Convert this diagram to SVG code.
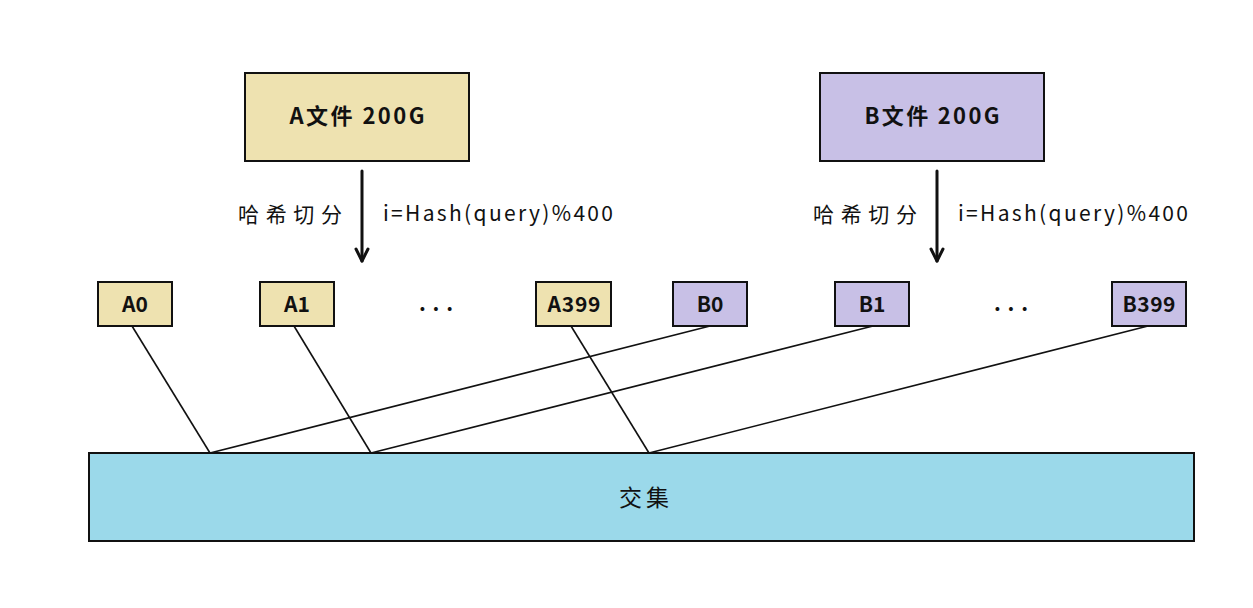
<svg xmlns="http://www.w3.org/2000/svg" width="1253" height="608" viewBox="0 0 1253 608">
<style>
.bx{stroke:#111;stroke-width:2}
.a{fill:#EEE2B0}
.b{fill:#C8C0E6}
.c{fill:#9BD9EA}
.lbl{font-family:"Noto Sans CJK SC","Liberation Sans",sans-serif;font-size:22px;font-weight:bold;fill:#111;text-anchor:middle}
.nl{font-family:"Noto Sans CJK SC","Liberation Sans",sans-serif;font-size:21px;font-weight:bold;fill:#111;text-anchor:middle}
.t{font-family:"Noto Sans CJK SC","Liberation Sans",sans-serif;font-size:21px;fill:#111}
.big{font-size:23px}
.ln{stroke:#111;stroke-width:1.6;fill:none}
.arr{stroke:#111;stroke-width:3;fill:none;stroke-linecap:round;stroke-linejoin:round}
</style>
<rect width="1253" height="608" fill="#fff"/>
<g id="connectors">
<line class="ln" x1="132" y1="326" x2="210" y2="453"/>
<line class="ln" x1="294" y1="326" x2="371" y2="453"/>
<line class="ln" x1="571" y1="326" x2="649" y2="453"/>
<line class="ln" x1="710" y1="326" x2="210" y2="453"/>
<line class="ln" x1="873" y1="326" x2="371" y2="453"/>
<line class="ln" x1="1148" y1="326" x2="649" y2="453"/>
<g id="arrowA">
<line class="arr" x1="362" y1="171" x2="362" y2="261"/>
<polyline class="arr" points="356,249 362,261 368,249"/>
</g>
<g id="arrowB">
<line class="arr" x1="937" y1="171" x2="937" y2="261"/>
<polyline class="arr" points="931,249 937,261 943,249"/>
</g>
</g>
<g id="fileA">
<rect class="bx a" x="245" y="73" width="224" height="88"/>
<text class="lbl" x="357" y="124" textLength="135" lengthAdjust="spacing">A文件 200G</text>
</g>
<g id="fileB">
<rect class="bx b" x="820" y="73" width="224" height="88"/>
<text class="lbl" x="932" y="124" textLength="135" lengthAdjust="spacing">B文件 200G</text>
</g>
<g id="labelsA">
<text class="t" x="238" y="222" textLength="104" lengthAdjust="spacing">哈希切分</text>
<text class="t" x="383" y="221" textLength="230" lengthAdjust="spacing">i=Hash(query)%400</text>
</g>
<g id="labelsB">
<text class="t" x="813" y="222" textLength="104" lengthAdjust="spacing">哈希切分</text>
<text class="t" x="958" y="221" textLength="230" lengthAdjust="spacing">i=Hash(query)%400</text>
</g>
<g id="A0"><rect class="bx a" x="98" y="282" width="74" height="44"/><text class="nl" x="135" y="312">A0</text></g>
<g id="A1"><rect class="bx a" x="260" y="282" width="74" height="44"/><text class="nl" x="297" y="312">A1</text></g>
<g id="dotsA"><text class="t" x="419" y="311" textLength="34" lengthAdjust="spacing" font-weight="bold">...</text></g>
<g id="A399"><rect class="bx a" x="536" y="282" width="75" height="44"/><text class="nl" x="574" y="312" textLength="53" lengthAdjust="spacing">A399</text></g>
<g id="B0"><rect class="bx b" x="673" y="282" width="74" height="44"/><text class="nl" x="710" y="312">B0</text></g>
<g id="B1"><rect class="bx b" x="835" y="282" width="74" height="44"/><text class="nl" x="872" y="312">B1</text></g>
<g id="dotsB"><text class="t" x="994" y="311" textLength="34" lengthAdjust="spacing" font-weight="bold">...</text></g>
<g id="B399"><rect class="bx b" x="1112" y="282" width="74" height="44"/><text class="nl" x="1149" y="312" textLength="53" lengthAdjust="spacing">B399</text></g>
<g id="intersection">
<rect class="bx c" x="89" y="453" width="1105" height="88"/>
<text class="t big" x="644" y="506" text-anchor="middle" textLength="50" lengthAdjust="spacing">交集</text>
</g>
</svg>
